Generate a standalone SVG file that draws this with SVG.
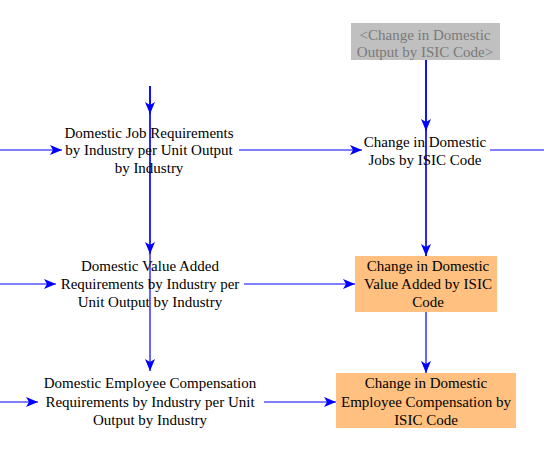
<svg xmlns="http://www.w3.org/2000/svg" width="544" height="451" viewBox="0 0 544 451" font-family="'Liberation Serif', 'DejaVu Serif', serif">
<style>
text{font-family:'Liberation Serif','DejaVu Serif',serif;font-size:15px;text-anchor:middle;fill:#000}
.ghost text{fill:#7a7a7a}
.c line{stroke:#0000ff;stroke-width:1.2;fill:none}
.orange{fill:#ffc080}
</style>
<defs>
<marker id="ah" viewBox="0 0 12 10" refX="12" refY="5" markerWidth="12" markerHeight="10" markerUnits="userSpaceOnUse" orient="auto">
<path d="M0,0 L12,5 L0,10 L3,5 Z" fill="#0000ff"/>
</marker>
</defs>
<rect width="544" height="451" fill="#fff"/>
<g class="c">
<line x1="426" y1="60" x2="426" y2="131" marker-end="url(#ah)"/>
<line x1="426" y1="60" x2="426" y2="256" marker-end="url(#ah)"/>
<line x1="426" y1="60" x2="426" y2="373" marker-end="url(#ah)"/>
<line x1="150" y1="86" x2="150" y2="114" marker-end="url(#ah)"/>
<line x1="150" y1="86" x2="150" y2="254" marker-end="url(#ah)"/>
<line x1="150" y1="86" x2="150" y2="371" marker-end="url(#ah)"/>
<line x1="0" y1="150" x2="62" y2="150" marker-end="url(#ah)"/>
<line x1="239" y1="150" x2="362" y2="150" marker-end="url(#ah)"/>
<line x1="490" y1="150" x2="544" y2="150"/>
<line x1="0" y1="284" x2="56" y2="284" marker-end="url(#ah)"/>
<line x1="244" y1="284" x2="355" y2="284" marker-end="url(#ah)"/>
<line x1="0" y1="402" x2="38" y2="402" marker-end="url(#ah)"/>
<line x1="264" y1="402" x2="336" y2="402" marker-end="url(#ah)"/>
</g>
<g id="ghost-output" class="ghost">
<rect x="351" y="23" width="149" height="37" fill="#c0c0c0"/>
<text x="425" y="40">&lt;Change in Domestic</text>
<text x="425" y="57">Output by ISIC Code&gt;</text>
</g>
<g id="job-req">
<text x="149" y="138">Domestic Job Requirements</text>
<text x="149" y="155">by Industry per Unit Output</text>
<text x="149" y="173">by Industry</text>
</g>
<g id="change-jobs">
<text x="425" y="147">Change in Domestic</text>
<text x="425" y="165">Jobs by ISIC Code</text>
</g>
<g id="va-req">
<text x="150" y="271">Domestic Value Added</text>
<text x="150" y="289">Requirements by Industry per</text>
<text x="150" y="307">Unit Output by Industry</text>
</g>
<g id="change-va">
<rect class="orange" x="355" y="256" width="142" height="56"/>
<text x="428" y="271">Change in Domestic</text>
<text x="428" y="289">Value Added by ISIC</text>
<text x="428" y="307">Code</text>
</g>
<g id="ec-req">
<text x="150" y="388">Domestic Employee Compensation</text>
<text x="150" y="407">Requirements by Industry per Unit</text>
<text x="150" y="425">Output by Industry</text>
</g>
<g id="change-ec">
<rect class="orange" x="336" y="373" width="180" height="55"/>
<text x="426" y="388">Change in Domestic</text>
<text x="426" y="407">Employee Compensation by</text>
<text x="426" y="425">ISIC Code</text>
</g>
</svg>
